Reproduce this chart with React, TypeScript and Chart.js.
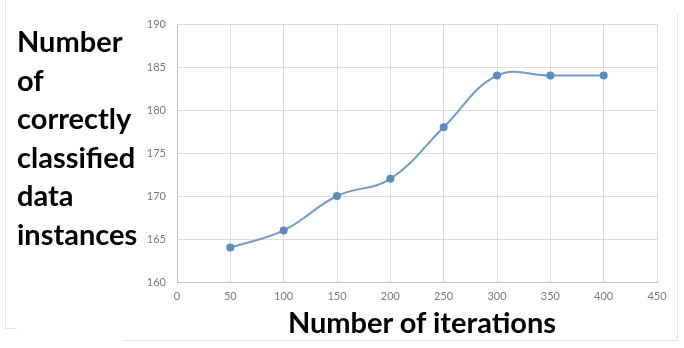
import React, { useEffect, useRef } from "react";
import { Chart, registerables } from "chart.js";

Chart.register(...registerables);

const iterations = [50, 100, 150, 200, 250, 300, 350, 400];
const correct = [164, 166, 170, 172, 178, 184, 184, 184];
const yTitleLines = ["Number", "of", "correctly", "classified", "data", "instances"];
const xTitle = "Number of iterations";

export default function App() {
  const ref = useRef<HTMLCanvasElement | null>(null);
  useEffect(() => {
    if (!ref.current) return;
    const chart = new Chart(ref.current, {
      type: "line",
      data: {
        datasets: [
          {
            data: iterations.map((x, i) => ({ x, y: correct[i] })),
            borderColor: "#6f9cc8",
            backgroundColor: "#5b8cc0",
            borderWidth: 2,
            pointRadius: 3,
            pointBackgroundColor: "#5b8cc0",
            pointBorderColor: "#5b8cc0",
            tension: 0.4,
            fill: false,
          },
        ],
      },
      options: {
        animation: false,
        responsive: false,
        maintainAspectRatio: false,
        layout: { padding: { left: 140, right: 27, top: 24, bottom: 0 } },
        plugins: { legend: { display: false }, tooltip: { enabled: false } },
        scales: {
          x: {
            type: "linear",
            min: 0,
            max: 450,
            ticks: { stepSize: 50, color: "#7a7a7a", font: { family: "Lato", size: 11 }, padding: 8 },
            grid: { color: "#dcdcdc", drawTicks: false },
            border: { color: "#c4c4c4" },
            afterFit: (s: any) => {
              s.height = 66;
            },
          },
          y: {
            min: 160,
            max: 190,
            ticks: { stepSize: 5, color: "#7a7a7a", font: { family: "Lato", size: 11 }, padding: 11 },
            grid: { color: "#dcdcdc", drawTicks: false },
            border: { color: "#c4c4c4" },
            afterFit: (s: any) => {
              s.width = 37;
            },
          },
        },
      },
    });
    return () => chart.destroy();
  }, []);

  return (
    <div style={{ position: "fixed", left: 0, top: 0, width: 684, height: 348, background: "#fff", overflow: "hidden" }}>
      <div style={{ position: "absolute", left: 5, top: 0, width: 0, height: 328, borderLeft: "1px solid #e4e4e4" }} />
      <div style={{ position: "absolute", left: 5, top: 328, width: 12, height: 0, borderTop: "1px solid #e4e4e4" }} />
      <div style={{ position: "absolute", left: 124, top: 340, width: 554, height: 0, borderTop: "1px solid #e4e4e4" }} />
      <div style={{ position: "absolute", left: 677, top: 14, width: 0, height: 326, borderLeft: "1px solid #e4e4e4" }} />
      <canvas ref={ref} width={684} height={348} style={{ position: "absolute", left: 0, top: 0, display: "block" }} />
      <div
        style={{
          position: "absolute",
          left: 17,
          top: 22,
          fontFamily: "Lato, sans-serif",
          fontWeight: 700,
          fontSize: 29,
          lineHeight: "38.5px",
          color: "#000",
          whiteSpace: "nowrap",
        }}
      >
        {yTitleLines.map((t) => (
          <div key={t}>{t}</div>
        ))}
      </div>
      <div
        style={{
          position: "absolute",
          left: 182,
          width: 480,
          top: 305,
          textAlign: "center",
          fontFamily: "Lato, sans-serif",
          fontWeight: 700,
          fontSize: 29,
          lineHeight: "34px",
          color: "#000",
          whiteSpace: "nowrap",
        }}
      >
        {xTitle}
      </div>
    </div>
  );
}
